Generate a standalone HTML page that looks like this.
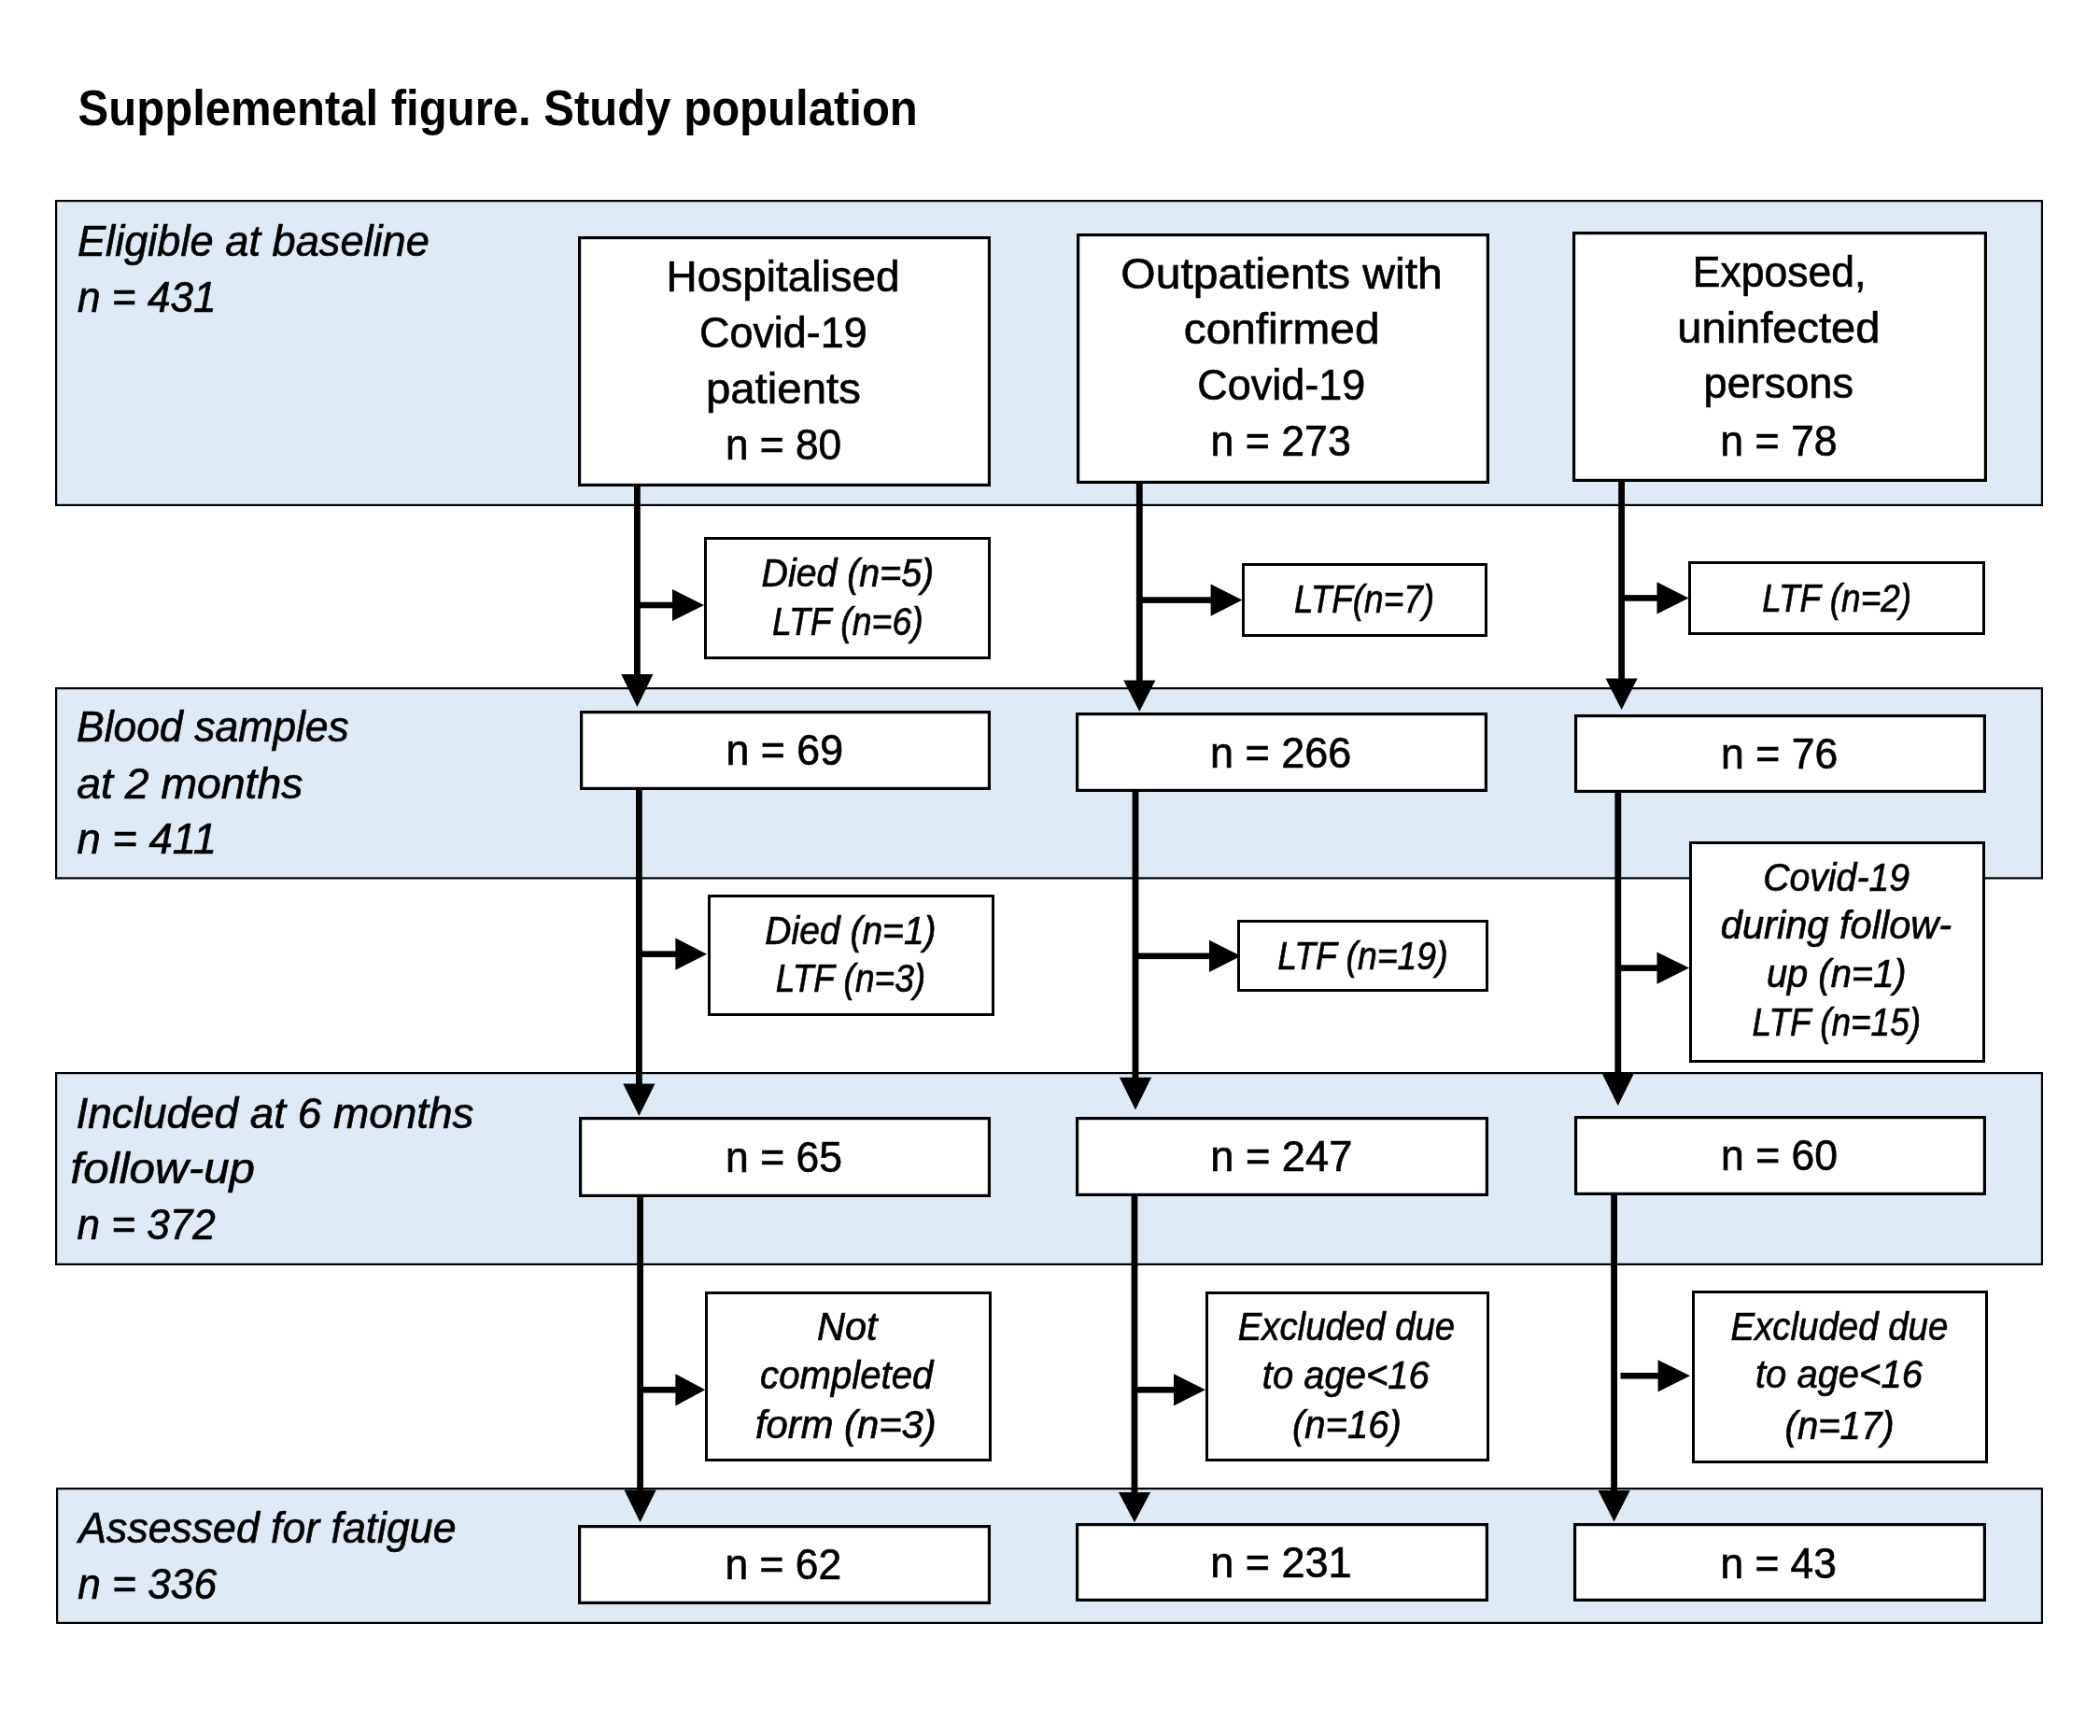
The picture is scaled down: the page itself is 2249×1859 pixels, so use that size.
<!DOCTYPE html>
<html><head><meta charset="utf-8"><style>
html,body{margin:0;padding:0;background:#fff;}
body{width:2249px;height:1859px;overflow:hidden;}
svg{display:block;will-change:transform;}
text{font-family:"Liberation Sans",sans-serif;fill:#000;stroke:#000;stroke-width:0.7px;}
</style></head><body>
<svg width="2249" height="1859" viewBox="0 0 2249 1859">
<rect x="0" y="0" width="2249" height="1859" fill="#fff"/>
<rect x="60.10" y="215.10" width="2126.80" height="325.80" fill="#DEEAF6" stroke="#000" stroke-width="2.2"/>
<rect x="60.10" y="737.10" width="2126.80" height="203.30" fill="#DEEAF6" stroke="#000" stroke-width="2.2"/>
<rect x="60.10" y="1149.10" width="2126.80" height="204.80" fill="#DEEAF6" stroke="#000" stroke-width="2.2"/>
<rect x="61.10" y="1594.10" width="2125.80" height="143.80" fill="#DEEAF6" stroke="#000" stroke-width="2.2"/>
<rect x="679.00" y="520.00" width="6.80" height="203.00" fill="#000"/>
<polygon points="665.30,722.00 699.50,722.00 682.40,757.00" fill="#000"/>
<rect x="681.00" y="845.00" width="6.80" height="316.60" fill="#000"/>
<polygon points="667.30,1160.60 701.50,1160.60 684.40,1195.00" fill="#000"/>
<rect x="682.20" y="1281.00" width="6.80" height="315.50" fill="#000"/>
<polygon points="668.50,1595.50 702.70,1595.50 685.60,1630.20" fill="#000"/>
<rect x="1216.90" y="517.00" width="6.80" height="212.60" fill="#000"/>
<polygon points="1203.20,728.60 1237.40,728.60 1220.30,762.00" fill="#000"/>
<rect x="1212.60" y="847.00" width="6.80" height="307.80" fill="#000"/>
<polygon points="1198.90,1153.80 1233.10,1153.80 1216.00,1188.50" fill="#000"/>
<rect x="1211.60" y="1280.00" width="6.80" height="319.00" fill="#000"/>
<polygon points="1197.90,1598.00 1232.10,1598.00 1215.00,1630.20" fill="#000"/>
<rect x="1733.20" y="515.00" width="6.80" height="212.50" fill="#000"/>
<polygon points="1719.50,726.50 1753.70,726.50 1736.60,760.00" fill="#000"/>
<rect x="1729.40" y="848.00" width="6.80" height="302.40" fill="#000"/>
<polygon points="1715.70,1149.40 1749.90,1149.40 1732.80,1184.10" fill="#000"/>
<rect x="1725.20" y="1279.00" width="6.80" height="318.00" fill="#000"/>
<polygon points="1711.50,1596.00 1745.70,1596.00 1728.60,1629.40" fill="#000"/>
<rect x="682.40" y="644.70" width="38.60" height="6.60" fill="#000"/>
<polygon points="720.00,630.90 720.00,665.10 754.00,648.00" fill="#000"/>
<rect x="684.40" y="1018.40" width="40.00" height="6.60" fill="#000"/>
<polygon points="723.40,1004.60 723.40,1038.80 757.00,1021.70" fill="#000"/>
<rect x="685.60" y="1485.00" width="38.80" height="6.60" fill="#000"/>
<polygon points="723.40,1471.20 723.40,1505.40 755.30,1488.30" fill="#000"/>
<rect x="1220.30" y="639.30" width="77.30" height="6.60" fill="#000"/>
<polygon points="1296.60,625.50 1296.60,659.70 1330.30,642.60" fill="#000"/>
<rect x="1216.00" y="1020.50" width="80.00" height="6.60" fill="#000"/>
<polygon points="1295.00,1006.70 1295.00,1040.90 1329.00,1023.80" fill="#000"/>
<rect x="1215.00" y="1485.00" width="43.00" height="6.60" fill="#000"/>
<polygon points="1257.00,1471.20 1257.00,1505.40 1291.00,1488.30" fill="#000"/>
<rect x="1736.60" y="637.10" width="38.90" height="6.60" fill="#000"/>
<polygon points="1774.50,623.30 1774.50,657.50 1808.50,640.40" fill="#000"/>
<rect x="1732.80" y="1033.30" width="42.70" height="6.60" fill="#000"/>
<polygon points="1774.50,1019.50 1774.50,1053.70 1809.00,1036.60" fill="#000"/>
<rect x="1735.50" y="1470.00" width="41.10" height="6.60" fill="#000"/>
<polygon points="1775.60,1456.20 1775.60,1490.40 1810.00,1473.30" fill="#000"/>
<rect x="620.60" y="254.60" width="438.80" height="264.80" fill="#fff" stroke="#000" stroke-width="3.2"/>
<rect x="1154.60" y="251.60" width="438.80" height="264.80" fill="#fff" stroke="#000" stroke-width="3.2"/>
<rect x="1685.60" y="249.60" width="440.80" height="264.80" fill="#fff" stroke="#000" stroke-width="3.2"/>
<rect x="622.60" y="762.60" width="436.80" height="81.80" fill="#fff" stroke="#000" stroke-width="3.2"/>
<rect x="1153.60" y="764.60" width="437.80" height="81.80" fill="#fff" stroke="#000" stroke-width="3.2"/>
<rect x="1687.60" y="766.60" width="437.80" height="80.80" fill="#fff" stroke="#000" stroke-width="3.2"/>
<rect x="621.60" y="1197.60" width="437.80" height="82.80" fill="#fff" stroke="#000" stroke-width="3.2"/>
<rect x="1153.60" y="1197.60" width="438.80" height="81.80" fill="#fff" stroke="#000" stroke-width="3.2"/>
<rect x="1687.60" y="1196.60" width="437.80" height="81.80" fill="#fff" stroke="#000" stroke-width="3.2"/>
<rect x="620.60" y="1634.60" width="438.80" height="81.80" fill="#fff" stroke="#000" stroke-width="3.2"/>
<rect x="1153.60" y="1632.60" width="438.80" height="80.80" fill="#fff" stroke="#000" stroke-width="3.2"/>
<rect x="1686.60" y="1632.60" width="438.80" height="80.80" fill="#fff" stroke="#000" stroke-width="3.2"/>
<rect x="755.50" y="576.50" width="304.00" height="128.00" fill="#fff" stroke="#000" stroke-width="3.0"/>
<rect x="1331.50" y="604.50" width="260.00" height="76.00" fill="#fff" stroke="#000" stroke-width="3.0"/>
<rect x="1809.50" y="602.50" width="315.00" height="76.00" fill="#fff" stroke="#000" stroke-width="3.0"/>
<rect x="759.50" y="959.50" width="304.00" height="127.00" fill="#fff" stroke="#000" stroke-width="3.0"/>
<rect x="1326.50" y="986.50" width="266.00" height="74.00" fill="#fff" stroke="#000" stroke-width="3.0"/>
<rect x="1810.50" y="902.50" width="314.00" height="234.00" fill="#fff" stroke="#000" stroke-width="3.0"/>
<rect x="756.50" y="1384.50" width="304.00" height="179.00" fill="#fff" stroke="#000" stroke-width="3.0"/>
<rect x="1292.50" y="1384.50" width="301.00" height="179.00" fill="#fff" stroke="#000" stroke-width="3.0"/>
<rect x="1813.50" y="1383.50" width="314.00" height="182.00" fill="#fff" stroke="#000" stroke-width="3.0"/>
<text transform="matrix(0.9116 0 0 1 83.53 134.30)" font-size="53.82" font-weight="bold" style="stroke-width:0">Supplemental figure. Study population</text>
<text transform="matrix(0.9625 0 0 1 82.94 274.30)" font-size="46.98" font-style="italic">Eligible at baseline</text>
<text transform="matrix(0.9401 0 0 1 83.03 334.00)" font-size="46.98" font-style="italic">n = 431</text>
<text transform="matrix(0.9475 0 0 1 81.96 794.30)" font-size="46.98" font-style="italic">Blood samples</text>
<text transform="matrix(0.9869 0 0 1 82.26 854.50)" font-size="46.98" font-style="italic">at 2 months</text>
<text transform="matrix(0.9668 0 0 1 82.51 914.40)" font-size="46.98" font-style="italic">n = 411</text>
<text transform="matrix(0.9771 0 0 1 81.46 1207.50)" font-size="46.98" font-style="italic">Included at 6 months</text>
<text transform="matrix(1.0509 0 0 1 75.50 1267.00)" font-size="46.98" font-style="italic">follow-up</text>
<text transform="matrix(0.9383 0 0 1 82.53 1326.90)" font-size="46.98" font-style="italic">n = 372</text>
<text transform="matrix(0.9497 0 0 1 84.33 1651.70)" font-size="46.98" font-style="italic">Assessed for fatigue</text>
<text transform="matrix(0.9418 0 0 1 83.23 1711.90)" font-size="46.98" font-style="italic">n = 336</text>
<text transform="matrix(0.9736 0 0 1 713.61 312.00)" font-size="47.13">Hospitalised</text>
<text transform="matrix(0.9536 0 0 1 748.95 372.00)" font-size="47.13">Covid-19</text>
<text transform="matrix(1.0053 0 0 1 755.92 431.70)" font-size="47.13">patients</text>
<text transform="matrix(0.9390 0 0 1 776.92 492.00)" font-size="47.13">n = 80</text>
<text transform="matrix(1.0192 0 0 1 1200.32 308.60)" font-size="47.13">Outpatients with</text>
<text transform="matrix(1.0137 0 0 1 1267.77 368.10)" font-size="47.13">confirmed</text>
<text transform="matrix(0.9547 0 0 1 1282.25 427.60)" font-size="47.13">Covid-19</text>
<text transform="matrix(0.9472 0 0 1 1296.60 488.30)" font-size="47.13">n = 273</text>
<text transform="matrix(0.9443 0 0 1 1812.83 307.40)" font-size="47.13">Exposed,</text>
<text transform="matrix(0.9987 0 0 1 1796.34 366.90)" font-size="47.13">uninfected</text>
<text transform="matrix(0.9568 0 0 1 1824.57 425.80)" font-size="47.13">persons</text>
<text transform="matrix(0.9478 0 0 1 1842.20 487.50)" font-size="47.13">n = 78</text>
<text transform="matrix(0.9487 0 0 1 777.49 819.00)" font-size="47.13">n = 69</text>
<text transform="matrix(0.9544 0 0 1 1296.08 821.60)" font-size="47.13">n = 266</text>
<text transform="matrix(0.9462 0 0 1 1843.10 822.80)" font-size="47.13">n = 76</text>
<text transform="matrix(0.9446 0 0 1 777.11 1255.10)" font-size="47.13">n = 65</text>
<text transform="matrix(0.9598 0 0 1 1296.16 1254.40)" font-size="47.13">n = 247</text>
<text transform="matrix(0.9445 0 0 1 1843.11 1253.30)" font-size="47.13">n = 60</text>
<text transform="matrix(0.9417 0 0 1 776.52 1691.00)" font-size="47.13">n = 62</text>
<text transform="matrix(0.9552 0 0 1 1296.17 1689.20)" font-size="47.13">n = 231</text>
<text transform="matrix(0.9407 0 0 1 1842.42 1689.50)" font-size="47.13">n = 43</text>
<text transform="matrix(0.9416 0 0 1 815.52 627.70)" font-size="41.75" font-style="italic">Died (n=5)</text>
<text transform="matrix(0.8960 0 0 1 826.88 679.70)" font-size="41.75" font-style="italic">LTF (n=6)</text>
<text transform="matrix(0.8853 0 0 1 1385.89 656.00)" font-size="41.75" font-style="italic">LTF(n=7)</text>
<text transform="matrix(0.8858 0 0 1 1887.19 655.00)" font-size="41.75" font-style="italic">LTF (n=2)</text>
<text transform="matrix(0.9348 0 0 1 819.33 1010.60)" font-size="41.75" font-style="italic">Died (n=1)</text>
<text transform="matrix(0.8881 0 0 1 830.79 1062.30)" font-size="41.75" font-style="italic">LTF (n=3)</text>
<text transform="matrix(0.8952 0 0 1 1368.18 1037.70)" font-size="41.75" font-style="italic">LTF (n=19)</text>
<text transform="matrix(0.9393 0 0 1 1888.14 953.50)" font-size="41.75" font-style="italic">Covid-19</text>
<text transform="matrix(0.9964 0 0 1 1842.85 1005.00)" font-size="41.75" font-style="italic">during follow-</text>
<text transform="matrix(0.9562 0 0 1 1891.90 1057.40)" font-size="41.75" font-style="italic">up (n=1)</text>
<text transform="matrix(0.8857 0 0 1 1876.59 1109.30)" font-size="41.75" font-style="italic">LTF (n=15)</text>
<text transform="matrix(0.9935 0 0 1 874.96 1435.00)" font-size="41.75" font-style="italic">Not</text>
<text transform="matrix(0.9618 0 0 1 814.10 1487.00)" font-size="41.75" font-style="italic">completed</text>
<text transform="matrix(1.0008 0 0 1 808.94 1540.20)" font-size="41.75" font-style="italic">form (n=3)</text>
<text transform="matrix(0.9194 0 0 1 1325.65 1435.00)" font-size="41.75" font-style="italic">Excluded due</text>
<text transform="matrix(0.9582 0 0 1 1351.80 1487.00)" font-size="41.75" font-style="italic">to age&lt;16</text>
<text transform="matrix(0.9607 0 0 1 1383.89 1540.20)" font-size="41.75" font-style="italic">(n=16)</text>
<text transform="matrix(0.9202 0 0 1 1853.55 1434.80)" font-size="41.75" font-style="italic">Excluded due</text>
<text transform="matrix(0.9571 0 0 1 1880.00 1486.30)" font-size="41.75" font-style="italic">to age&lt;16</text>
<text transform="matrix(0.9599 0 0 1 1911.60 1540.50)" font-size="41.75" font-style="italic">(n=17)</text>
</svg></body></html>
